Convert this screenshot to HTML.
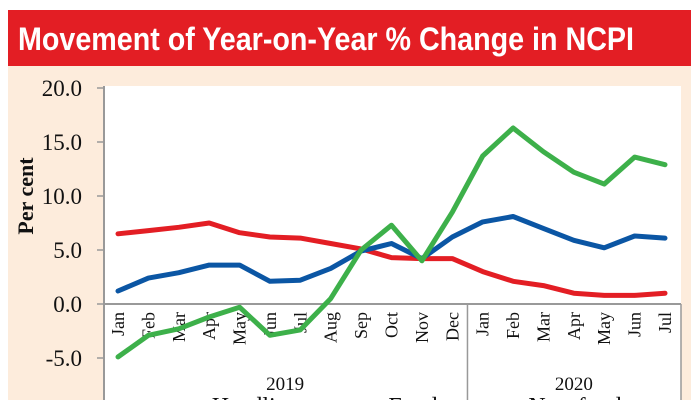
<!DOCTYPE html>
<html><head><meta charset="utf-8"><style>
html,body{margin:0;padding:0;background:#fff;}
svg{display:block;}
</style></head><body>
<svg id="chart" width="700" height="400" xmlns="http://www.w3.org/2000/svg">
<rect x="0" y="0" width="700" height="400" fill="#ffffff"/>
<rect x="8" y="66" width="683" height="334" fill="#fdecdc"/>
<rect x="8" y="10" width="683" height="56" fill="#e31e24"/>
<text x="18" y="50" font-family="Liberation Sans, sans-serif" font-weight="bold" font-size="32" fill="#fff" textLength="616" lengthAdjust="spacingAndGlyphs">Movement of Year-on-Year % Change in NCPI</text>
<rect x="104" y="86" width="577" height="314" fill="#ffffff"/>
<text transform="translate(33,196) rotate(-90)" text-anchor="middle" font-family="Liberation Serif, serif" font-weight="bold" font-size="22" fill="#111">Per cent</text>
<g id="axes"></g>
<g id="series"></g>
</svg>
<script>
const months = ["Jan","Feb","Mar","Apr","May","Jun","Jul","Aug","Sep","Oct","Nov","Dec","Jan","Feb","Mar","Apr","May","Jun","Jul"];
const headline = [1.2,2.4,2.9,3.6,3.6,2.1,2.2,3.3,4.9,5.6,4.2,6.2,7.6,8.1,7.0,5.9,5.2,6.3,6.1];
const food = [-4.9,-2.9,-2.3,-1.2,-0.3,-2.9,-2.4,0.5,5.0,7.3,4.0,8.5,13.7,16.3,14.1,12.2,11.1,13.6,12.9];
const nonFood = [6.5,6.8,7.1,7.5,6.6,6.2,6.1,5.6,5.1,4.3,4.2,4.2,3.0,2.1,1.7,1.0,0.8,0.8,1.0];
const yTicks = [20,15,10,5,0,-5];
const yTickLabels = ["20.0","15.0","10.0","5.0","0.0","-5.0"];
const years = ["2019","2020"];
const legendLabels = ["Headline","Food","Non-food"];

const NS="http://www.w3.org/2000/svg";
function xs(i){return 118 + i*(665-118)/(months.length-1);}
function ys(v){return 304 - v*10.8;}
const axes=document.getElementById('axes'), series=document.getElementById('series');
function mk(tag,attrs,parent,txt){const e=document.createElementNS(NS,tag);for(const k in attrs)e.setAttribute(k,attrs[k]);if(txt!==undefined)e.textContent=txt;parent.appendChild(e);return e;}

let yAxis=mk('line',{x1:104,y1:86,x2:104,y2:400,stroke:'#999','stroke-width':2},axes);


yTicks.forEach((t,i)=>{
  const tk=mk('line',{x1:97,y1:ys(t),x2:104,y2:ys(t),stroke:'#999','stroke-width':1.5},axes);
  
  
  const lb=mk('text',{x:82,y:ys(t)+8,'text-anchor':'end','font-family':'Liberation Serif, serif','font-size':23,fill:'#111'},axes,yTickLabels[i]);
  
  
});
let zero=mk('line',{x1:104,y1:ys(0),x2:681,y2:ys(0),stroke:'#999','stroke-width':2},axes);


const divX=(xs(11)+xs(12))/2;
let dv=mk('line',{x1:divX,y1:ys(0),x2:divX,y2:400,stroke:'#999','stroke-width':1.5},axes);


let rv=mk('line',{x1:681,y1:ys(0),x2:681,y2:400,stroke:'#999','stroke-width':1.5},axes);


months.forEach((m,i)=>{
  const t=mk('text',{transform:`translate(${xs(i)+6},312) rotate(-90)`,'text-anchor':'end','font-family':'Liberation Serif, serif','font-size':18,fill:'#111'},axes,m);
  
  
});
[[years[0],(xs(0)+xs(11))/2],[years[1],(xs(12)+xs(18))/2]].forEach(([y,x])=>{
  const t=mk('text',{x:x,y:390,'text-anchor':'middle','font-family':'Liberation Serif, serif','font-size':19,fill:'#111'},axes,y);
  
  
});
[[legendLabels[0],255],[legendLabels[1],413],[legendLabels[2],575]].forEach(([l,x])=>{
  const t=mk('text',{x:x,y:414,'text-anchor':'middle','font-family':'Liberation Serif, serif','font-size':24,fill:'#111'},axes,l);
  
  
});
function drawLine(data,color,name){
  const d=data.map((v,i)=>(i?'L':'M')+xs(i).toFixed(1)+','+ys(v).toFixed(1)).join(' ');
  const p=mk('path',{d:d,fill:'none',stroke:color,'stroke-width':5,'stroke-linejoin':'round','stroke-linecap':'round'},series);
  
  
}
drawLine(nonFood,'#e31e24','non-food-line');
drawLine(headline,'#0b56a4','headline-line');
drawLine(food,'#3db04a','food-line');
</script>
</body></html>
